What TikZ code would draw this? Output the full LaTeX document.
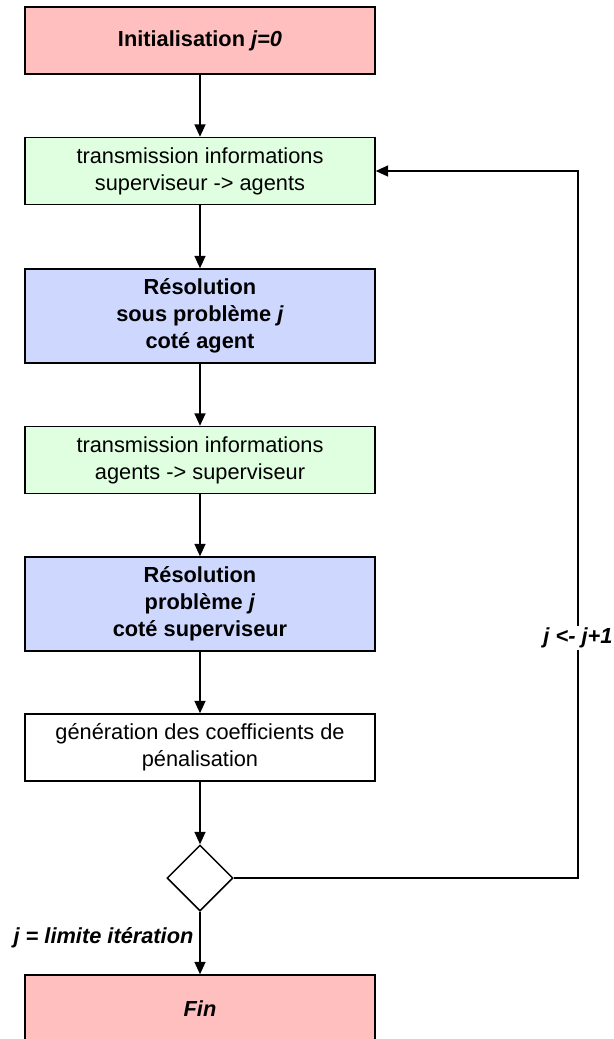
\documentclass[tikz,border=0pt]{standalone}
\usepackage{fontspec}
\setmainfont{Liberation Sans}
\usepackage{xcolor}
\usetikzlibrary{arrows.meta,shapes.geometric}

\definecolor{initpink}{RGB}{255,191,191}
\definecolor{transgreen}{RGB}{224,255,224}
\definecolor{resblue}{RGB}{206,216,255}

\begin{document}
\begin{tikzpicture}[
  x=0.02cm, y=-0.02cm,
  box/.style={draw, rectangle, line width=0.85pt,
              text centered, align=center,
              minimum width=7cm, minimum height=1.34cm,
              inner sep=2pt,
              font=\fontsize{12.4}{15.3}\selectfont},
  tallbox/.style={box, minimum height=1.88cm, font=\fontsize{12.4}{15.3}\selectfont\bfseries},
  decision/.style={draw, diamond, line width=0.85pt, aspect=1,
                   minimum width=1.32cm, minimum height=1.32cm, inner sep=0pt},
  arr/.style={-{Triangle[length=7pt, width=6.2pt]}, line width=0.85pt},
  lbl/.style={font=\fontsize{12.4}{15.3}\selectfont\bfseries\itshape}
]
\clip (0,0) rectangle (614,1039);

% ── Main column ──
\node[box, fill=initpink, font=\fontsize{12.4}{15.3}\selectfont\bfseries]
     (init) at (200, 40.5) {Initialisation \textit{j=0}};
\node[box, fill=transgreen] (sup2ag) at (200, 171)
     {transmission informations\\superviseur -> agents};
\node[tallbox, fill=resblue] (resag) at (200, 316)
     {Résolution\\sous problème \textit{j}\\coté agent};
\node[box, fill=transgreen] (ag2sup) at (200, 460)
     {transmission informations\\agents -> superviseur};
\node[tallbox, fill=resblue] (ressup) at (200, 604)
     {Résolution\\problème \textit{j}\\coté superviseur};
\node[box, fill=white] (coef) at (200, 747.5)
     {génération des coefficients de\\pénalisation};
\node[decision] (test) at (200, 878) {};
\node[box, fill=initpink, font=\fontsize{12.4}{15.3}\selectfont\bfseries\itshape]
     (fin) at (200, 1008.5) {Fin};

% ── Flow ──
\draw[arr] (init) -- (sup2ag);
\draw[arr] (sup2ag) -- (resag);
\draw[arr] (resag) -- (ag2sup);
\draw[arr] (ag2sup) -- (ressup);
\draw[arr] (ressup) -- (coef);
\draw[arr] (coef) -- (test);
\draw[arr] (test) --
     node[lbl, left=0pt, pos=0.42] {j = limite itération} (fin);

% ── Loop back ──
\coordinate (loopbot) at (578, 878);
\coordinate (looptop) at (578, 171);
\draw[arr] (test.east) -- (loopbot) --
     node[lbl, fill=white, inner sep=1pt, pos=0.34] {j <- j+1}
     (looptop) -- (sup2ag.east);

\end{tikzpicture}
\end{document}
